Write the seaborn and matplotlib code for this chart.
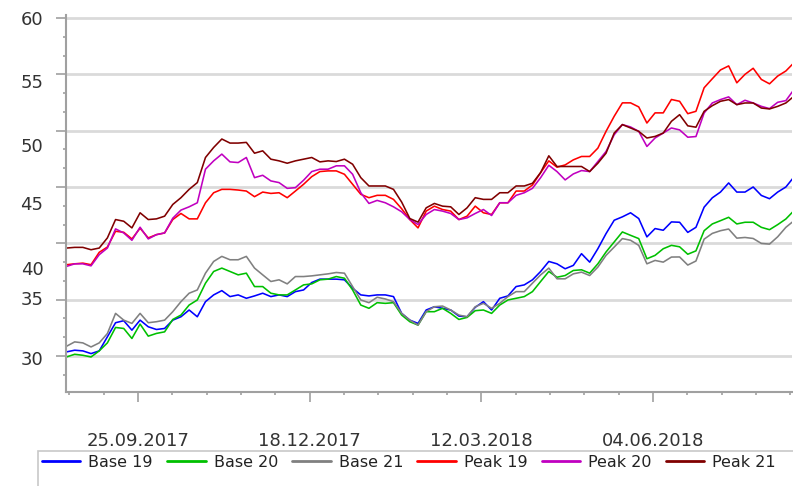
import numpy as np
import pandas as pd
import matplotlib
matplotlib.use("Agg")
import matplotlib.pyplot as plt
import matplotlib.dates as mdates
import matplotlib.transforms as mtransforms
from matplotlib.patches import Rectangle
import seaborn as sns

# ---------------- data ----------------
dates = pd.date_range("2017-08-21", periods=90, freq="4D")

base19 = [30.36, 30.51, 30.45, 30.21, 30.45, 31.7, 32.95, 33.13, 32.29, 33.18, 32.59, 32.35, 32.44, 33.18, 33.48,
          34.08, 33.48, 34.82, 35.42, 35.8, 35.27, 35.42, 35.12, 35.33, 35.57, 35.27, 35.42, 35.27, 35.71, 35.86,
          36.52, 36.82, 36.82, 36.82, 36.76, 36.01, 35.42, 35.33, 35.42, 35.42, 35.27, 33.78, 33.18, 32.89, 34.08,
          34.37, 34.23, 34.08, 33.54, 33.48, 34.32, 34.82, 34.08, 35.12, 35.33, 36.16, 36.31, 36.76, 37.5, 38.39,
          38.18, 37.74, 38.04, 39.08, 38.33, 39.52, 40.86, 42.05, 42.35, 42.71, 42.2, 40.57, 41.31, 41.16, 41.9,
          41.87, 40.97, 41.42, 43.21, 44.04, 44.55, 45.36, 44.55, 44.55, 45.0, 44.25, 43.96, 44.55, 45.0, 45.9]

base20 = [29.91, 30.15, 30.06, 29.91, 30.45, 31.16, 32.53, 32.44, 31.55, 32.83, 31.76, 32.0, 32.14, 33.24, 33.63,
          34.52, 34.97, 36.46, 37.5, 37.8, 37.5, 37.2, 37.35, 36.16, 36.16, 35.57, 35.42, 35.42, 35.86, 36.31,
          36.4, 36.76, 36.82, 37.05, 36.9, 35.86, 34.52, 34.23, 34.73, 34.67, 34.73, 33.63, 33.04, 32.74, 33.93,
          33.93, 34.23, 33.78, 33.24, 33.42, 34.02, 34.08, 33.78, 34.52, 34.97, 35.12, 35.27, 35.71, 36.61, 37.5,
          36.99, 37.14, 37.59, 37.65, 37.35, 38.18, 39.23, 40.12, 41.01, 40.71, 40.42, 38.63, 38.93, 39.52, 39.82,
          39.69, 39.03, 39.33, 41.12, 41.72, 42.01, 42.31, 41.72, 41.87, 41.87, 41.42, 41.21, 41.66, 42.16, 42.91]

base21 = [30.86, 31.25, 31.16, 30.8, 31.16, 31.99, 33.78, 33.18, 32.89, 33.78, 32.95, 33.04, 33.18, 33.93, 34.82,
          35.57, 35.86, 37.35, 38.39, 38.84, 38.54, 38.54, 38.84, 37.8, 37.2, 36.61, 36.76, 36.4, 37.05, 37.05,
          37.11, 37.2, 37.29, 37.41, 37.35, 36.16, 34.97, 34.73, 35.21, 35.06, 34.82, 33.78, 33.18, 32.74, 33.93,
          34.37, 34.43, 34.08, 33.63, 33.48, 34.37, 34.67, 34.23, 34.67, 35.27, 35.71, 35.71, 36.46, 37.2, 37.8,
          36.85, 36.85, 37.29, 37.44, 37.14, 37.89, 38.93, 39.67, 40.42, 40.27, 39.82, 38.18, 38.48, 38.33, 38.78,
          38.79, 38.07, 38.43, 40.37, 40.88, 41.12, 41.27, 40.46, 40.52, 40.43, 39.99, 39.93, 40.58, 41.42, 42.01]

peak19 = [38.1, 38.18, 38.24, 38.1, 39.2, 39.67, 41.07, 40.98, 40.39, 41.34, 40.48, 40.77, 40.92, 42.11, 42.65,
          42.17, 42.17, 43.6, 44.49, 44.79, 44.79, 44.73, 44.64, 44.14, 44.55, 44.43, 44.49, 44.05, 44.64, 45.24,
          45.92, 46.37, 46.43, 46.43, 46.13, 45.24, 44.35, 44.05, 44.26, 44.26, 43.9, 43.07, 42.11, 41.37, 42.86,
          43.3, 43.0, 42.86, 42.11, 42.41, 43.3, 42.71, 42.56, 43.6, 43.6, 44.64, 44.64, 45.18, 46.28, 47.32,
          46.76, 46.96, 47.41, 47.71, 47.71, 48.45, 49.94, 51.28, 52.47, 52.47, 52.11, 50.68, 51.58, 51.58, 52.77,
          52.61, 51.51, 51.72, 53.81, 54.61, 55.39, 55.75, 54.25, 55.0, 55.54, 54.55, 54.16, 54.85, 55.3, 56.04]

peak20 = [37.95, 38.18, 38.18, 38.0, 38.99, 39.58, 41.28, 40.92, 40.27, 41.43, 40.39, 40.77, 40.92, 42.23, 42.95,
          43.24, 43.6, 46.58, 47.32, 47.92, 47.23, 47.17, 47.62, 45.83, 46.04, 45.54, 45.39, 44.88, 44.94, 45.6,
          46.37, 46.58, 46.58, 46.88, 46.88, 46.13, 44.49, 43.54, 43.81, 43.6, 43.24, 42.8, 42.11, 41.67, 42.56,
          43.0, 42.86, 42.65, 42.11, 42.26, 42.65, 43.0, 42.47, 43.6, 43.6, 44.26, 44.49, 44.88, 45.83, 46.93,
          46.37, 45.63, 46.16, 46.46, 46.37, 47.26, 48.15, 49.64, 50.54, 50.33, 49.94, 48.6, 49.35, 49.79, 50.24,
          50.07, 49.42, 49.48, 51.57, 52.46, 52.76, 53.0, 52.31, 52.7, 52.46, 52.16, 51.96, 52.52, 52.67, 53.66]

peak21 = [39.58, 39.64, 39.64, 39.43, 39.58, 40.48, 42.11, 41.96, 41.37, 42.71, 42.11, 42.17, 42.41, 43.45, 44.05,
          44.79, 45.39, 47.62, 48.51, 49.26, 48.9, 48.9, 48.96, 48.0, 48.21, 47.47, 47.32, 47.11, 47.32, 47.47,
          47.62, 47.23, 47.32, 47.26, 47.47, 47.02, 45.83, 45.09, 45.09, 45.09, 44.79, 43.66, 42.2, 41.88, 43.15,
          43.54, 43.3, 43.24, 42.56, 43.15, 44.05, 43.9, 43.9, 44.49, 44.49, 45.09, 45.09, 45.33, 46.28, 47.77,
          46.82, 46.82, 46.82, 46.82, 46.37, 47.11, 48.0, 49.79, 50.54, 50.24, 49.94, 49.35, 49.49, 49.79, 50.83,
          51.42, 50.43, 50.31, 51.72, 52.22, 52.61, 52.76, 52.31, 52.46, 52.46, 52.01, 51.93, 52.16, 52.46, 53.06]

series_names = ["Base 19", "Base 20", "Base 21", "Peak 19", "Peak 20", "Peak 21"]
series_colors = ["#0000ff", "#00c000", "#808080", "#ff0000", "#c000c0", "#800000"]

grid_values = [30, 35, 40, 45, 50, 55, 60]
y_tick_labels = ["30", "35", "40", "45", "50", "55", "60"]
tick_dates = pd.to_datetime(["2017-09-25", "2017-12-18", "2018-03-12", "2018-06-04"])

# ---------------- layout / style ----------------
y_label_pos = [29.65, 34.97, 37.63, 43.4, 48.55, 54.22, 59.81]   # where the reference prints its labels

df = pd.DataFrame({"date": np.tile(dates, 6),
                   "value": base19 + base20 + base21 + peak19 + peak20 + peak21,
                   "series": np.repeat(series_names, len(dates))})

sns.set_theme(style="white")
plt.rcParams["font.family"] = ["DejaVu Sans"]

fig = plt.figure(figsize=(7.93, 4.86), dpi=100)
ax = fig.add_axes([66 / 793, 1 - 392 / 486, 726 / 793, 377 / 486])

sns.lineplot(data=df, x="date", y="value", hue="series", hue_order=series_names,
             palette=dict(zip(series_names, series_colors)), linewidth=1.15, ax=ax, legend=True)

ax.set_xlim(pd.Timestamp("2017-08-20 18:00"), pd.Timestamp("2018-08-11"))
ax.set_ylim(26.8, 60.27)

# y axis: gridlines at grid values, labels as text
ax.set_yticks(grid_values)
ax.set_yticklabels([])
ax.yaxis.set_minor_locator(matplotlib.ticker.MultipleLocator(5 / 3))
ax.yaxis.grid(True, which="major", color="#dadada", linewidth=2.0)
ax.set_axisbelow(True)
trans = mtransforms.blended_transform_factory(ax.transAxes, ax.transData)
for pos, lab in zip(y_label_pos, y_tick_labels):
    ax.text(-0.031, pos, lab, transform=trans, ha="right", va="center",
            fontsize=13, color="#333333")

# x axis ticks
major_num = mdates.date2num(tick_dates)
step = (major_num[1] - major_num[0]) / 5
minor_num = major_num[0] + np.arange(-2, 20) * step
ax.xaxis.set_major_locator(matplotlib.ticker.FixedLocator(major_num))
ax.xaxis.set_minor_locator(matplotlib.ticker.FixedLocator(minor_num))
ax.xaxis.set_major_formatter(mdates.DateFormatter("%d.%m.%Y"))

ax.tick_params(axis="both", which="major", direction="out", length=7, width=1.2,
               color="#a0a0a0", labelcolor="#333333")
ax.tick_params(axis="both", which="minor", direction="out", length=2.5, width=1.2,
               color="#a0a0a0")
ax.tick_params(axis="x", which="major", pad=22, labelsize=13)
ax.tick_params(axis="y", left=True, which="both")
ax.tick_params(axis="x", bottom=True, which="both")

for side in ["top", "right"]:
    ax.spines[side].set_visible(False)
for side in ["left", "bottom"]:
    ax.spines[side].set_color("#a0a0a0")
    ax.spines[side].set_linewidth(1.5)

ax.set_xlabel("")
ax.set_ylabel("")

# legend
handles, labels = ax.get_legend_handles_labels()
ax.get_legend().remove()
for h in handles:
    h.set_linewidth(2.0)
fig.legend(handles, labels, loc="upper left", bbox_to_anchor=(42 / 793, 1 - 455 / 486),
           ncol=6, frameon=False, fontsize=11.5, handlelength=2.4, handletextpad=0.5,
           columnspacing=0.9, borderaxespad=0, borderpad=0, labelcolor="#222222")
fig.patches.append(Rectangle((38 / 793, -0.1), 1.0, 0.1 + (486 - 451) / 486,
                             transform=fig.transFigure, fill=False,
                             edgecolor="#c8c8c8", linewidth=1.2))

fig.savefig("out.png", dpi=100)
